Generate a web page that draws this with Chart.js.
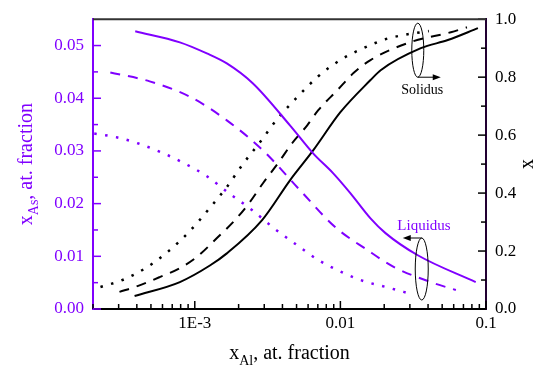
<!DOCTYPE html>
<html>
<head>
<meta charset="utf-8">
<script src="https://cdn.jsdelivr.net/npm/chart.js@4.4.1/dist/chart.umd.min.js"></script>
<style>
  html, body { margin: 0; padding: 0; background: #fff; }
  #wrap { width: 533px; height: 365px; }
</style>
</head>
<body>
<div id="wrap"><canvas id="chart_1" width="533" height="365"></canvas></div>
<script>
const PURPLE = '#8000ff';
const FONT = '"Liberation Serif", "Times New Roman", serif';

// axis ticks
const xTicks = [0.001, 0.01, 0.1];
const xTickLabels = ['1E-3', '0.01', '0.1'];
const leftTicks = [0, 0.01, 0.02, 0.03, 0.04, 0.05];
const rightTicks = [0, 0.2, 0.4, 0.6, 0.8, 1.0];

// liquidus, x_As (left axis), purple
const liqSolidX = [0.00039, 0.00079, 0.00121, 0.00166, 0.00251, 0.00452, 0.00652, 0.0089, 0.0117, 0.0161, 0.0204, 0.034, 0.085];
const liqSolidY = [0.0527, 0.0506, 0.0485, 0.0466, 0.0428, 0.0348, 0.0295, 0.0258, 0.0220, 0.0172, 0.0144, 0.0102, 0.0051];
const liqDashX = [0.000263, 0.00049, 0.000924, 0.00166, 0.00294, 0.0053, 0.00925, 0.0153, 0.0232, 0.0418, 0.0621];
const liqDashY = [0.0449, 0.0432, 0.0403, 0.0358, 0.0301, 0.0225, 0.0155, 0.0112, 0.0080, 0.0051, 0.0036];
const liqDotX = [0.000204, 0.00029, 0.000411, 0.000592, 0.00084, 0.00121, 0.00171, 0.00247, 0.00351, 0.00505, 0.00705, 0.0102, 0.0144, 0.0204, 0.031];
const liqDotY = [0.0333, 0.0326, 0.0314, 0.0297, 0.0277, 0.0252, 0.0220, 0.0188, 0.0153, 0.0121, 0.0093, 0.0070, 0.0053, 0.0042, 0.0028];

// solidus, x (right axis), black
const solSolidX = [0.000386, 0.00079, 0.00127, 0.00166, 0.0029, 0.00452, 0.00652, 0.01, 0.0161, 0.0189, 0.0357, 0.0547, 0.088];
const solSolidY = [0.045, 0.093, 0.150, 0.192, 0.307, 0.445, 0.548, 0.679, 0.790, 0.824, 0.900, 0.928, 0.969];
const solDashX = [0.000304, 0.000404, 0.000574, 0.00079, 0.00103, 0.00142, 0.00189, 0.00239, 0.00294, 0.00373, 0.00466, 0.00592, 0.00705, 0.00953, 0.0123, 0.0161, 0.0304, 0.0574, 0.074];
const solDashY = [0.059, 0.079, 0.110, 0.141, 0.179, 0.245, 0.307, 0.369, 0.434, 0.503, 0.572, 0.634, 0.686, 0.755, 0.814, 0.859, 0.921, 0.955, 0.972];
const solDotX = [0.000225, 0.000319, 0.000459, 0.000652, 0.000924, 0.00125, 0.00166, 0.00214, 0.00281, 0.00368, 0.00505, 0.00705, 0.0102, 0.0144, 0.0204, 0.029, 0.0405];
const solDotY = [0.076, 0.100, 0.141, 0.197, 0.269, 0.345, 0.421, 0.500, 0.576, 0.655, 0.731, 0.803, 0.862, 0.900, 0.931, 0.948, 0.959];

// labels with their ellipse markers (x value, right-axis value)
const notes = [
    { text: 'Solidus', color: '#000', ex: 0.034, ey: 0.893, rx: 6, ry: 27, arrow: 'right', tx: 0.0365, ty: 0.755 },
    { text: 'Liquidus', color: PURPLE, ex: 0.0362, ey: 0.138, rx: 6.5, ry: 31, arrow: 'left', tx: 0.0375, ty: 0.286 }
];

function pts(xs, ys) {
    return xs.map((x, i) => ({ x: x, y: ys[i] }));
}

function line(xs, ys, color, dash, axis) {
    const dotted = dash.length && dash[0] < 4;
    return {
        data: pts(xs, ys),
        borderColor: color,
        backgroundColor: color,
        borderWidth: dotted ? 2.5 : 2,
        borderDash: dash,
        pointRadius: 0,
        cubicInterpolationMode: 'monotone',
        fill: false,
        yAxisID: axis
    };
}

// ticks pointing into the plot, minor ticks, top frame
const innerTicks = {
    id: 'innerTicks',
    afterDatasetsDraw(chart) {
        const ctx = chart.ctx;
        const a = chart.chartArea;
        const sx = chart.scales.x, sy = chart.scales.y, sy1 = chart.scales.y1;
        ctx.save();
        ctx.lineWidth = 1.5;

        ctx.strokeStyle = '#000';
        for (let e = -4; e <= -1; e++) {
            for (let m = 1; m <= 9; m++) {
                const v = m * Math.pow(10, e);
                if (v < sx.min * 0.999 || v > sx.max * 1.001) continue;
                const p = sx.getPixelForValue(v);
                const len = m === 1 ? 8 : 5;
                ctx.beginPath();
                ctx.moveTo(p, a.bottom);
                ctx.lineTo(p, a.bottom - len);
                ctx.stroke();
            }
        }

        ctx.strokeStyle = PURPLE;
        for (let k = 0; k <= 10; k++) {
            const v = k * 0.005;
            const p = sy.getPixelForValue(v);
            ctx.beginPath();
            ctx.moveTo(a.left, p);
            ctx.lineTo(a.left + (k % 2 === 0 ? 8 : 5), p);
            ctx.stroke();
        }

        ctx.strokeStyle = '#000';
        for (let k = 0; k <= 10; k++) {
            const p = sy1.getPixelForValue(k / 10);
            ctx.beginPath();
            ctx.moveTo(a.right, p);
            ctx.lineTo(a.right - (k % 2 === 0 ? 8 : 5), p);
            ctx.stroke();
        }

        ctx.strokeStyle = '#333';
        ctx.lineWidth = 2;
        ctx.beginPath();
        ctx.moveTo(a.left, a.top);
        ctx.lineTo(a.right, a.top);
        ctx.stroke();
        ctx.restore();
    }
};

function drawParts(ctx, parts, size) {
    let w = 0;
    parts.forEach(p => {
        ctx.font = (p.sub ? size * 0.7 : size) + 'px ' + FONT;
        p.w = ctx.measureText(p.t).width;
        w += p.w;
    });
    let x = -w / 2;
    parts.forEach(p => {
        ctx.font = (p.sub ? size * 0.7 : size) + 'px ' + FONT;
        ctx.fillText(p.t, x, p.sub ? size * 0.3 : 0);
        x += p.w;
    });
}

// axis titles with subscripts, and the Solidus / Liquidus markers
const titles = {
    id: 'titles',
    afterDraw(chart) {
        const ctx = chart.ctx;
        const a = chart.chartArea;
        const sx = chart.scales.x, sy1 = chart.scales.y1;
        ctx.save();
        ctx.textBaseline = 'alphabetic';
        ctx.textAlign = 'left';

        ctx.fillStyle = '#000';
        ctx.save();
        ctx.translate((a.left + a.right) / 2, 359);
        drawParts(ctx, [{ t: 'x' }, { t: 'Al', sub: true }, { t: ', at. fraction' }], 20);
        ctx.restore();

        ctx.fillStyle = PURPLE;
        ctx.save();
        ctx.translate(32, (a.top + a.bottom) / 2);
        ctx.rotate(-Math.PI / 2);
        drawParts(ctx, [{ t: 'x' }, { t: 'As', sub: true }, { t: ', at. fraction' }], 20);
        ctx.restore();

        ctx.fillStyle = '#000';
        ctx.save();
        ctx.translate(533, (a.top + a.bottom) / 2);
        ctx.rotate(-Math.PI / 2);
        drawParts(ctx, [{ t: 'x' }], 20);
        ctx.restore();

        notes.forEach(n => {
            const cx = sx.getPixelForValue(n.ex);
            const cy = sy1.getPixelForValue(n.ey);
            ctx.strokeStyle = '#000';
            ctx.fillStyle = '#000';
            ctx.lineWidth = 1;
            ctx.beginPath();
            ctx.ellipse(cx, cy, n.rx, n.ry, 0, 0, Math.PI * 2);
            ctx.stroke();
            let y0, x1;
            if (n.arrow === 'right') {
                y0 = cy + n.ry;
                x1 = cx + 23;
            } else {
                y0 = cy - n.ry;
                x1 = cx - 19;
            }
            const dir = Math.sign(x1 - cx);
            ctx.beginPath();
            ctx.moveTo(cx, y0);
            ctx.lineTo(x1 - dir * 6, y0);
            ctx.stroke();
            ctx.beginPath();
            ctx.moveTo(x1, y0);
            ctx.lineTo(x1 - dir * 8, y0 - 3);
            ctx.lineTo(x1 - dir * 8, y0 + 3);
            ctx.closePath();
            ctx.fill();

            ctx.fillStyle = n.color;
            ctx.font = (n.text === 'Solidus' ? 14 : 15) + 'px ' + FONT;
            ctx.textAlign = 'center';
            ctx.textBaseline = 'middle';
            ctx.fillText(n.text, sx.getPixelForValue(n.tx), sy1.getPixelForValue(n.ty));
            ctx.textAlign = 'left';
            ctx.textBaseline = 'alphabetic';
        });
        ctx.restore();
    }
};

const chart_1 = document.getElementById('chart_1').getContext('2d');

new Chart(chart_1, {
    type: 'line',
    data: {
        datasets: [
            line(liqSolidX, liqSolidY, PURPLE, [], 'y'),
            line(liqDashX, liqDashY, PURPLE, [10, 8], 'y'),
            line(liqDotX, liqDotY, PURPLE, [2.5, 8.5], 'y'),
            line(solSolidX, solSolidY, '#000', [], 'y1'),
            line(solDashX, solDashY, '#000', [10, 8], 'y1'),
            line(solDotX, solDotY, '#000', [2.5, 8.5], 'y1')
        ]
    },
    options: {
        responsive: false,
        animation: false,
        layout: { padding: { top: 19, left: 0, right: 0, bottom: 0 } },
        plugins: {
            legend: { display: false },
            tooltip: { enabled: false }
        },
        scales: {
            x: {
                type: 'logarithmic',
                position: 'bottom',
                min: 0.0002,
                max: 0.1,
                grid: { display: false, drawTicks: false },
                border: { display: true, color: '#000', width: 2 },
                ticks: {
                    color: '#000',
                    font: { family: FONT, size: 17 },
                    padding: 4,
                    autoSkip: false,
                    maxRotation: 0,
                    callback: (v, i) => xTickLabels[i]
                },
                afterBuildTicks: s => { s.ticks = xTicks.map(v => ({ value: v })); },
                afterFit: s => { s.height = 56; }
            },
            y: {
                type: 'linear',
                position: 'left',
                min: 0,
                max: 0.055,
                grid: { display: false, drawTicks: false },
                border: { display: true, color: PURPLE, width: 2 },
                ticks: {
                    color: PURPLE,
                    font: { family: FONT, size: 17 },
                    padding: 9,
                    callback: v => v.toFixed(2)
                },
                afterBuildTicks: s => { s.ticks = leftTicks.map(v => ({ value: v })); },
                afterFit: s => { s.width = 93; }
            },
            y1: {
                type: 'linear',
                position: 'right',
                min: 0,
                max: 1,
                grid: { display: false, drawTicks: false },
                border: { display: true, color: '#220033', width: 2 },
                ticks: {
                    color: '#000',
                    font: { family: FONT, size: 17 },
                    padding: 9,
                    callback: v => v.toFixed(1)
                },
                afterBuildTicks: s => { s.ticks = rightTicks.map(v => ({ value: v })); },
                afterFit: s => { s.width = 47; }
            }
        }
    },
    plugins: [innerTicks, titles]
});
</script>
</body>
</html>
